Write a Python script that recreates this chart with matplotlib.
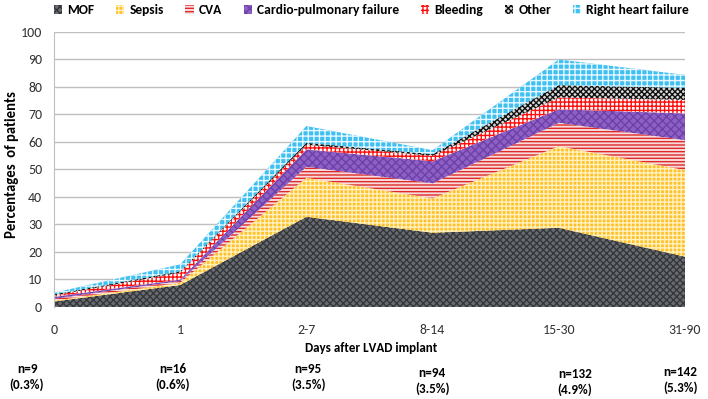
import numpy as np
import matplotlib.pyplot as plt
from matplotlib.patches import Patch

plt.rcParams['font.family'] = ['Carlito', 'Lato', 'DejaVu Sans']
plt.rcParams['hatch.linewidth'] = 1.0

# data (percentage of patients per cause, stacked)
periods = ['0', '1', '2-7', '8-14', '15-30', '31-90']
mof = [2.0, 8.0, 32.8, 27.0, 28.8, 18.3]
sepsis = [0.3, 0.8, 14.2, 12.5, 29.7, 31.5]
cva = [0.7, 0.7, 4.0, 5.5, 8.5, 10.9]
cardio = [0.7, 0.5, 6.3, 8.0, 4.9, 9.7]
bleeding = [0.5, 2.5, 1.7, 2.0, 4.3, 4.9]
other = [0.4, 0.5, 0.7, 0.6, 4.5, 4.4]
rhf = [0.6, 2.5, 6.1, 1.4, 9.3, 4.7]
n_counts = ['n=9', 'n=16', 'n=95', 'n=94', 'n=132', 'n=142']
n_pct = ['(0.3%)', '(0.6%)', '(3.5%)', '(3.5%)', '(4.9%)', '(5.3%)']

series = [
    ('MOF', mof, '#686b70', '#34363a', 'xxxxx'),
    ('Sepsis', sepsis, '#ffc12a', '#fff0c0', '++++'),
    ('CVA', cva, '#f7dada', '#e02a2a', '-----'),
    ('Cardio-pulmonary failure', cardio, '#8c60c4', '#6e40a8', 'xxxx'),
    ('Bleeding', bleeding, 'white', '#ff1010', '++++'),
    ('Other', other, '#d8d8d8', '#111111', 'xxxxxx'),
    ('Right heart failure', rhf, '#3fc0f0', '#e6f7ff', '+++'),
]

fig = plt.figure(figsize=(7.08, 3.99), dpi=100)
ax = fig.add_axes([0.0763, 0.2306, 0.8912, 0.6892])

x = np.arange(len(periods))
base = np.zeros(len(periods))
handles = []
for name, vals, face, edge, hatch in series:
    top = base + np.array(vals)
    ax.fill_between(x, base, top, facecolor=face, edgecolor=edge, hatch=hatch,
                    linewidth=0, zorder=2)
    handles.append(Patch(facecolor=face, edgecolor=edge, hatch=hatch, linewidth=0, label=name))
    base = top

ax.set_xlim(0, 5)
ax.set_ylim(0, 100)
ax.set_yticks(range(0, 101, 10))
ax.set_xticks(x)
ax.set_xticklabels(periods)
ax.tick_params(axis='both', length=0, labelsize=10, colors='#333333')
ax.tick_params(axis='x', pad=12)
ax.tick_params(axis='y', pad=8.5)
ax.grid(axis='y', color='#bfbfbf', linewidth=1, zorder=0)
for s in ['top', 'right', 'bottom']:
    ax.spines[s].set_visible(False)
ax.spines['left'].set_color('#bfbfbf')

fig.text(12 / 708, 1 - 165 / 399, 'Percentages  of patients', rotation=90,
         ha='center', va='center', fontsize=10.5, fontweight='bold')
fig.text(371 / 708, 1 - 348 / 399, 'Days after LVAD implant', ha='center', va='center',
         fontsize=9.4, fontweight='bold')

n_x = [27, 173, 308, 432, 575, 680]
n_dy = [0, 0, 0, 4, 5, 3]
for px, dy, nc, npc in zip(n_x, n_dy, n_counts, n_pct):
    fig.text(px / 708, 1 - (369 + dy) / 399, nc, ha='center', va='center',
             fontsize=9.5, fontweight='bold')
    fig.text(px / 708, 1 - (385 + dy) / 399, npc, ha='center', va='center',
             fontsize=9.5, fontweight='bold')

fig.legend(handles=handles, loc='center right', bbox_to_anchor=(0.99, 0.975), ncol=7,
           frameon=False, handlelength=0.6, handleheight=0.6,
           handletextpad=0.4, columnspacing=1.6, prop={'weight': 'bold', 'size': 9.7})

fig.savefig('out.png', dpi=100)
